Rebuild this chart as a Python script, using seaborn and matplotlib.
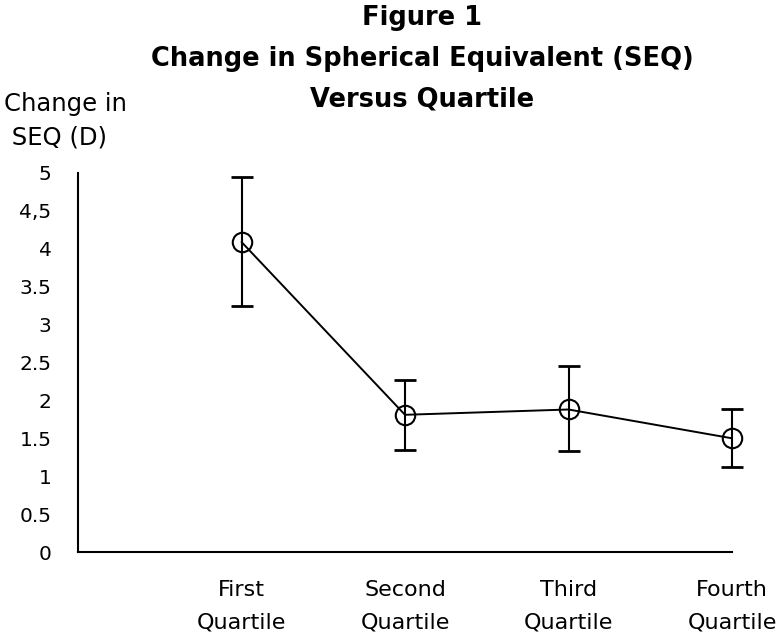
import matplotlib
matplotlib.use("Agg")
import matplotlib.pyplot as plt
import numpy as np
import pandas as pd
import seaborn as sns

# ─── Data ─────────────────────────────────────────────────────────────────────
quartiles = ["First\nQuartile", "Second\nQuartile", "Third\nQuartile", "Fourth\nQuartile"]
seq_change = [4.09, 1.81, 1.88, 1.50]
err_low = [3.25, 1.34, 1.33, 1.12]
err_high = [4.95, 2.27, 2.46, 1.88]
y_ticks = [0, 0.5, 1, 1.5, 2, 2.5, 3, 3.5, 4, 4.5, 5]
y_tick_labels = ["0", "0.5", "1", "1.5", "2", "2.5", "3", "3.5", "4", "4,5", "5"]

df = pd.DataFrame({"quartile": quartiles, "seq": seq_change})

# ─── Plot ─────────────────────────────────────────────────────────────────────
sns.set_style("white")
plt.rcParams["font.family"] = ["DejaVu Sans"]
plt.rcParams["text.color"] = "black"
plt.rcParams["xtick.color"] = "black"
plt.rcParams["ytick.color"] = "black"

fig = plt.figure(figsize=(7.81, 6.36), dpi=100)
ax = fig.add_axes([78 / 781, 1 - 552 / 636, (732 - 78) / 781, (552 - 173) / 636])

sns.pointplot(data=df, x="quartile", y="seq", ax=ax, color="black",
              errorbar=None, markers="o", linestyles="-", linewidth=1.4,
              markersize=14, markerfacecolor="none", markeredgewidth=1.5)

x_pos = np.arange(len(quartiles))
yerr = [np.array(seq_change) - np.array(err_low), np.array(err_high) - np.array(seq_change)]
eb = ax.errorbar(x_pos, seq_change, yerr=yerr, fmt="none", ecolor="black",
                 elinewidth=1.5, capsize=8, capthick=2.0)
for artist in eb.get_children():
    artist.set_clip_on(False)
for line in ax.lines:
    line.set_clip_on(False)

ax.set_xlim(-1, 3)
ax.set_ylim(0, 5)
ax.set_yticks(y_ticks)
ax.set_yticklabels(y_tick_labels)
ax.set_xticks(x_pos)
ax.set_xticklabels(quartiles, linespacing=1.8)
ax.set_xlabel("")
ax.set_ylabel("")

for side in ["top", "right"]:
    ax.spines[side].set_visible(False)
for side in ["left", "bottom"]:
    ax.spines[side].set_color("black")
    ax.spines[side].set_linewidth(1.5)

ax.tick_params(axis="y", direction="inout", length=6, width=1.2, labelsize=14.5, pad=16)
ax.tick_params(axis="x", direction="in", length=5, width=1.2, labelsize=16, pad=20)

fig.text(422 / 781, 1 - 5 / 636,
         "Figure 1\nChange in Spherical Equivalent (SEQ)\nVersus Quartile",
         ha="center", va="top", fontsize=18.5, fontweight="bold", linespacing=1.75)
fig.text(4 / 781, 1 - 92 / 636, "Change in\n SEQ (D)",
         ha="left", va="top", fontsize=17.5, linespacing=1.5)

fig.savefig("out.png", dpi=100)
